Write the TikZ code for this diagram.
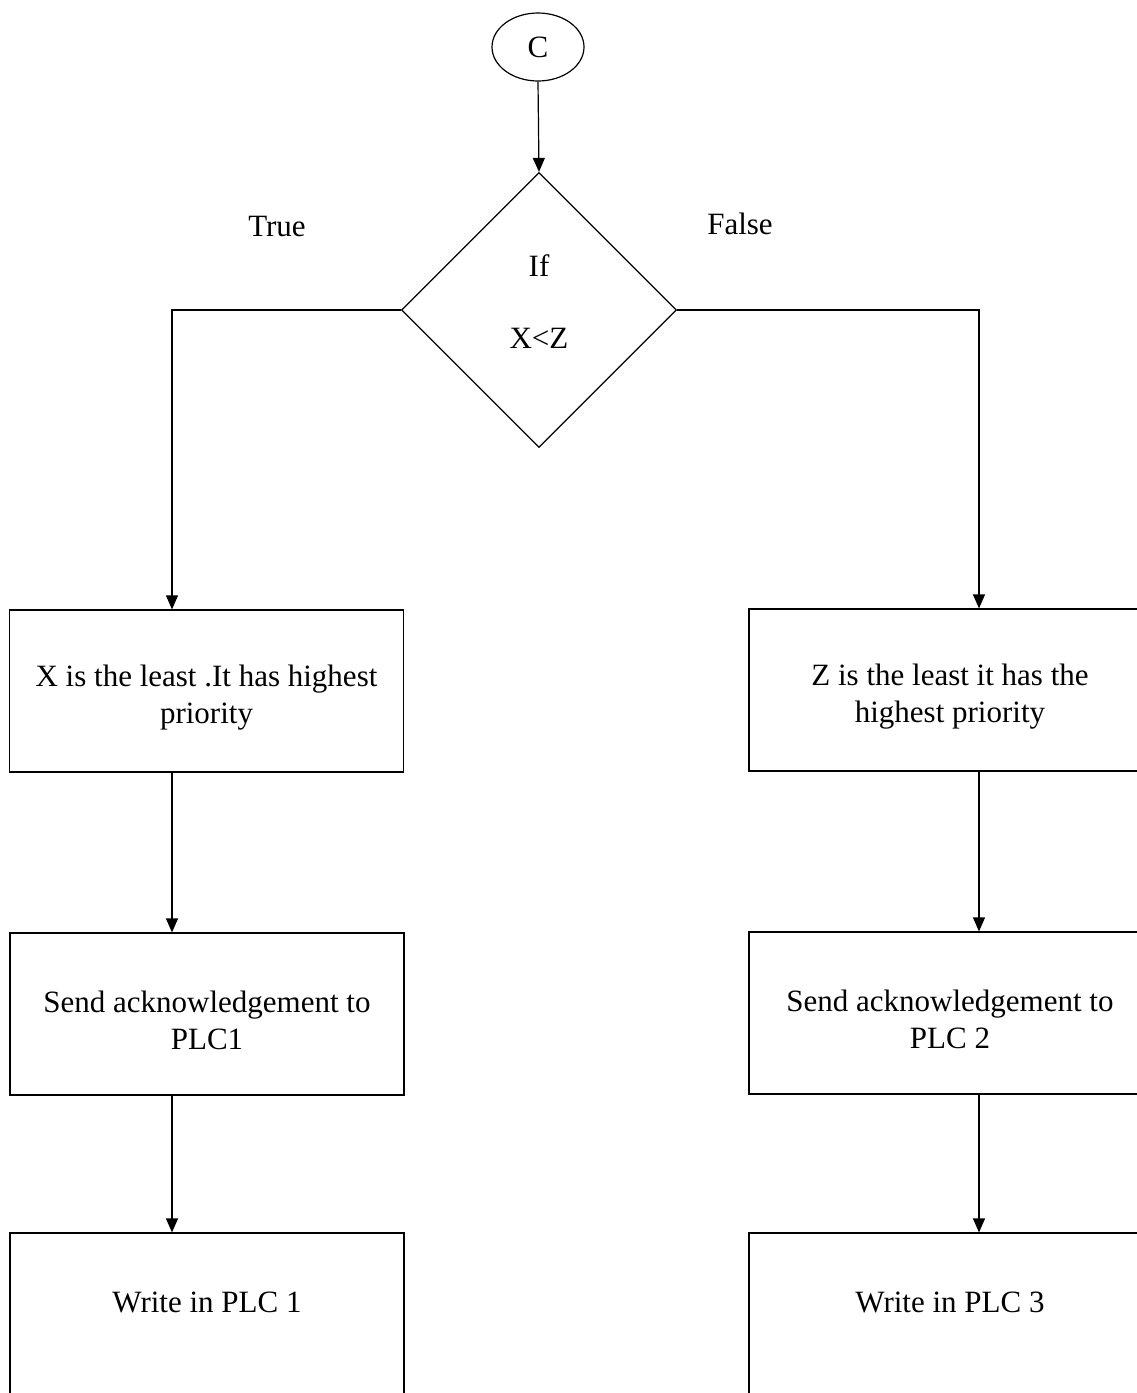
\documentclass[tikz,border=0pt]{standalone}
\usepackage{fontspec}
\setmainfont{Liberation Serif}
\usetikzlibrary{shapes.geometric,arrows.meta}
% strut that lowers the text block inside the process boxes
\newcommand{\boxtop}{\rule{0pt}{34pt}}
% strut that lifts the text block inside the decision
\newcommand{\diabot}{\rule[-17pt]{0pt}{0pt}}
\begin{document}
\begin{tikzpicture}[x=1pt,y=-1pt,
  every node/.style={font=\fontsize{31}{37}\selectfont},
  shapeline/.style={draw,line width=1.2pt,inner sep=0pt},
  procbox/.style={shapeline,rectangle,minimum width=394pt,minimum height=162pt,align=center},
  widebox/.style={procbox,minimum width=402pt},
  arr/.style={line width=1.2pt,-{Triangle[length=14pt,width=12pt]}}]
\useasboundingbox (0,0) rectangle (1137,1393);
\clip (0,0) rectangle (1137,1393);

% start connector and decision
\node[shapeline,ellipse,minimum width=92pt,minimum height=68pt] (c) at (538,47) {C};
\node[shapeline,diamond,minimum width=275pt,minimum height=275pt,align=center] (d) at (539,310) {If\\[35pt]X<Z\diabot};

% branch labels
\node (t) at (277,226) {True};
\node (f) at (740,224) {False};

% left (true) branch
\node[procbox] (b1) at (206.5,691) {\boxtop X is the least .It has highest\\priority};
\node[procbox] (b2) at (207,1014) {\boxtop Send acknowledgement to\\PLC1};
\node[procbox] (b3) at (207,1314) {\boxtop Write in PLC 1\\\mbox{}};

% right (false) branch
\node[widebox] (b4) at (950,690) {\boxtop Z is the least it has the\\highest priority};
\node[widebox] (b5) at (950,1013) {\boxtop Send acknowledgement to\\PLC 2};
\node[widebox] (b6) at (950,1314) {\boxtop Write in PLC 3\\\mbox{}};

% columns of the vertical connectors
\coordinate (lx) at (172,0);
\coordinate (rx) at (979,0);

\draw[arr] (c.south) -- (d.north);
\draw[arr] (d.west) -| (b1.north -| lx);
\draw[arr] (d.east) -| (b4.north -| rx);
\draw[arr] (b1.south -| lx) -- (b2.north -| lx);
\draw[arr] (b2.south -| lx) -- (b3.north -| lx);
\draw[arr] (b4.south -| rx) -- (b5.north -| rx);
\draw[arr] (b5.south -| rx) -- (b6.north -| rx);
\end{tikzpicture}
\end{document}
